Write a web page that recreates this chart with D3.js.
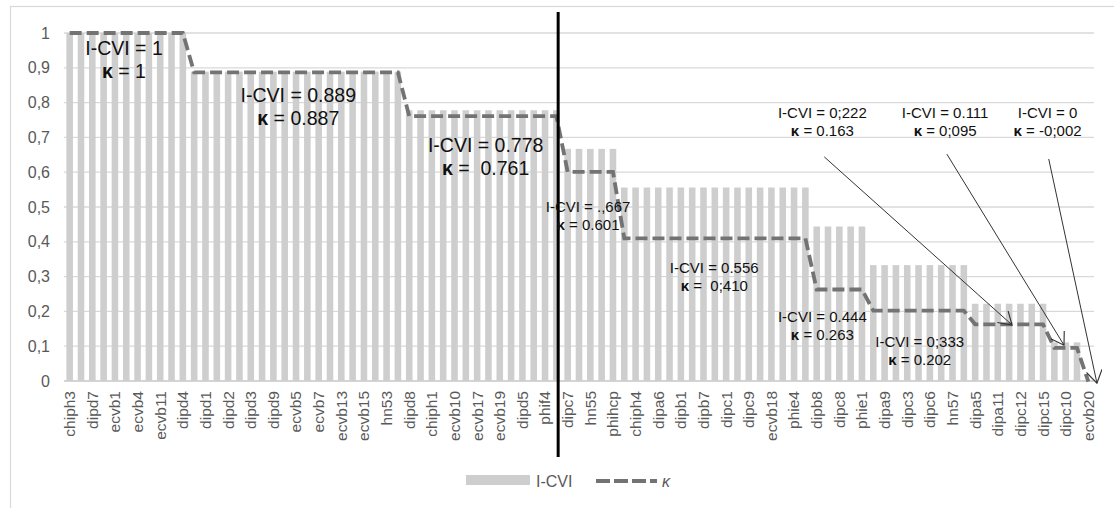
<!DOCTYPE html>
<html><head><meta charset="utf-8">
<script src="https://cdn.jsdelivr.net/npm/d3@7"></script>
<style>
body{margin:0;background:#fff}
text{font-family:"Liberation Sans",Arial,sans-serif}
</style>
</head><body>
<svg id="c" width="1114" height="508"></svg>
<script>
// Category tick labels (every other item is labelled in the original)
const tickLabels = ["chiph3","dipd7","ecvb1","ecvb4","ecvb11","dipd4","dipd1","dipd2","dipd3","dipd9",
  "ecvb5","ecvb7","ecvb13","ecvb15","hn53","dipd8","chiph1","ecvb10","ecvb17","ecvb19",
  "dipd5","phif4","dipc7","hn55","phihcp","chiph4","dipa6","dipb1","dipb7","dipc1",
  "dipc9","ecvb18","phie4","dipb8","dipc8","phie1","dipa9","dipc3","dipc6","hn57",
  "dipa5","dipa11","dipc12","dipc15","dipc10","ecvb20"];

// I-CVI per item (91 items)
const icvi = [
  1,1,1,1,1,1,1,1,1,1,1,
  0.889,0.889,0.889,0.889,0.889,0.889,0.889,0.889,0.889,0.889,0.889,0.889,0.889,0.889,0.889,0.889,0.889,0.889,0.889,
  0.778,0.778,0.778,0.778,0.778,0.778,0.778,0.778,0.778,0.778,0.778,0.778,0.778,0.778,
  0.667,0.667,0.667,0.667,0.667,
  0.556,0.556,0.556,0.556,0.556,0.556,0.556,0.556,0.556,0.556,0.556,0.556,0.556,0.556,0.556,0.556,0.556,
  0.444,0.444,0.444,0.444,0.444,
  0.333,0.333,0.333,0.333,0.333,0.333,0.333,0.333,0.333,
  0.222,0.222,0.222,0.222,0.222,0.222,0.222,
  0.111,0.111,0.111,
  0
];

// kappa per item (91 items)
const kappa = [
  1,1,1,1,1,1,1,1,1,1,1,
  0.887,0.887,0.887,0.887,0.887,0.887,0.887,0.887,0.887,0.887,0.887,0.887,0.887,0.887,0.887,0.887,0.887,0.887,0.887,
  0.761,0.761,0.761,0.761,0.761,0.761,0.761,0.761,0.761,0.761,0.761,0.761,0.761,0.761,
  0.601,0.601,0.601,0.601,0.601,
  0.410,0.410,0.410,0.410,0.410,0.410,0.410,0.410,0.410,0.410,0.410,0.410,0.410,0.410,0.410,0.410,0.410,
  0.263,0.263,0.263,0.263,0.263,
  0.202,0.202,0.202,0.202,0.202,0.202,0.202,0.202,0.202,
  0.163,0.163,0.163,0.163,0.163,0.163,0.163,
  0.095,0.095,0.095,
  -0.002
];

const yTicks = [0,0.1,0.2,0.3,0.4,0.5,0.6,0.7,0.8,0.9,1];
const yTickLabels = ["0","0,1","0,2","0,3","0,4","0,5","0,6","0,7","0,8","0,9","1"];

// Annotations: position in data units (item index, value of first line)
const notes = [
  {i:4.8,  v:0.957, l1:"I-CVI = 1",     l2:"1",       big:true},
  {i:20.2, v:0.822, l1:"I-CVI = 0.889", l2:"0.887",   big:true},
  {i:36.75,v:0.678, l1:"I-CVI = 0.778", l2:" 0.761",  big:true},
  {i:45.8, v:0.500, l1:"I-CVI = .,667", l2:"0.601",   big:false},
  {i:56.95,v:0.325, l1:"I-CVI = 0.556", l2:" 0;410",  big:false},
  {i:66.5, v:0.184, l1:"I-CVI = 0.444", l2:"0.263",   big:false},
  {i:75.1, v:0.112, l1:"I-CVI = 0;333", l2:"0.202",   big:false},
  {i:66.5, v:0.770, l1:"I-CVI = 0;222", l2:"0.163",   big:false},
  {i:77.35,v:0.770, l1:"I-CVI = 0.111", l2:"0;095",   big:false},
  {i:86.4, v:0.770, l1:"I-CVI = 0",     l2:"-0;002",  big:false}
];
const arrows = [
  {fi:66.67, fv:0.644, ti:83.26, tv:0.161},
  {fi:77.5,  fv:0.652, ti:87.85, tv:0.103},
  {fi:86.5,  fv:0.638, ti:90.76, tv:-0.006}
];

const svg = d3.select("#c");
const barColor = "#cecece", gridColor = "#d9d9d9", lineColor = "#737373", txt = "#595959";

// frame
svg.append("rect").attr("x",10.5).attr("y",6.5).attr("width",1200).attr("height",600)
  .attr("fill","none").attr("stroke","#d9d9d9").attr("stroke-width",1.2);

const x = d3.scaleBand().domain(d3.range(icvi.length)).range([64,1094]).paddingInner(0.42).paddingOuter(0.21);
const y = d3.scaleLinear().domain([0,1]).range([381,33]);
const xc = i => x.range()[0] + x.step()*(i+0.5);

// gridlines
svg.append("g").selectAll("line").data(yTicks).join("line")
  .attr("x1",64).attr("x2",1094).attr("y1",d=>y(d)).attr("y2",d=>y(d))
  .attr("stroke",gridColor).attr("stroke-width",1.3);

// y axis labels
svg.append("g").selectAll("text").data(yTicks).join("text")
  .attr("x",50).attr("y",d=>y(d)).attr("dy","0.35em").attr("text-anchor","end")
  .attr("font-size",16).attr("fill",txt).text((d,k)=>yTickLabels[k]);

// bars
svg.append("g").selectAll("rect").data(icvi).join("rect")
  .attr("x",(d,i)=>x(i)).attr("width",x.bandwidth())
  .attr("y",d=>y(d)).attr("height",d=>y(0)-y(d)).attr("fill",barColor);

// axis baseline
svg.append("line").attr("x1",64).attr("x2",1094).attr("y1",y(0)).attr("y2",y(0))
  .attr("stroke","#cfcfcf").attr("stroke-width",1.5);

// x labels
svg.append("g").selectAll("text").data(tickLabels).join("text")
  .attr("transform",(d,k)=>`translate(${xc(k*2)},${y(0)+10}) rotate(-90)`)
  .attr("text-anchor","end").attr("dy","0.35em").attr("font-size",15.5).attr("fill",txt).text(d=>d);

// kappa line
svg.append("path").datum(kappa)
  .attr("d",d3.line().x((d,i)=>xc(i)).y(d=>y(d)))
  .attr("fill","none").attr("stroke",lineColor).attr("stroke-width",3.8).attr("stroke-dasharray","12,5");

// divider line
svg.append("line").attr("x1",xc(43)+1.8).attr("x2",xc(43)+1.8).attr("y1",y(1.06)).attr("y2",457)
  .attr("stroke","#000").attr("stroke-width",3);

// arrows
const defs = svg.append("defs");
defs.append("marker").attr("id","ah").attr("markerUnits","userSpaceOnUse")
  .attr("markerWidth",16).attr("markerHeight",16).attr("refX",11).attr("refY",7)
  .attr("orient","auto").attr("viewBox","0 0 14 14")
  .append("path").attr("d","M0,0 L11,7 L0,14").attr("fill","none").attr("stroke","#333").attr("stroke-width",1);
svg.append("g").selectAll("line").data(arrows).join("line")
  .attr("x1",d=>xc(d.fi)).attr("y1",d=>y(d.fv)).attr("x2",d=>xc(d.ti)).attr("y2",d=>y(d.tv))
  .attr("stroke","#333").attr("stroke-width",1).attr("marker-end","url(#ah)");

// annotations
const ng = svg.append("g").selectAll("g").data(notes).join("g");
ng.each(function(d){
  const g = d3.select(this);
  const fs = d.big ? 19.5 : 15;
  const lh = d.big ? 23 : 18;
  g.append("text").attr("x",xc(d.i)).attr("y",y(d.v)).attr("dy","0.35em").attr("text-anchor","middle")
    .attr("font-size",fs).attr("fill","#111").text(d.l1);
  const t2 = g.append("text").attr("x",xc(d.i)).attr("y",y(d.v)+lh).attr("dy","0.35em").attr("text-anchor","middle")
    .attr("font-size",fs).attr("fill","#111").attr("xml:space","preserve");
  t2.append("tspan").attr("font-weight","bold").text("κ");
  t2.append("tspan").text(" = " + d.l2);
});

// legend
const lg = svg.append("g");
lg.append("rect").attr("x",466).attr("y",475).attr("width",64).attr("height",10).attr("fill",barColor);
lg.append("text").attr("x",536).attr("y",481).attr("dy","0.35em").attr("font-size",16).attr("fill",txt).text("I-CVI");
lg.append("line").attr("x1",596).attr("x2",657).attr("y1",481).attr("y2",481)
  .attr("stroke",lineColor).attr("stroke-width",3.8).attr("stroke-dasharray","14,4");
lg.append("text").attr("x",662).attr("y",481).attr("dy","0.35em").attr("font-size",16)
  .attr("font-style","italic").attr("fill",txt).text("κ");
</script>
</body></html>
